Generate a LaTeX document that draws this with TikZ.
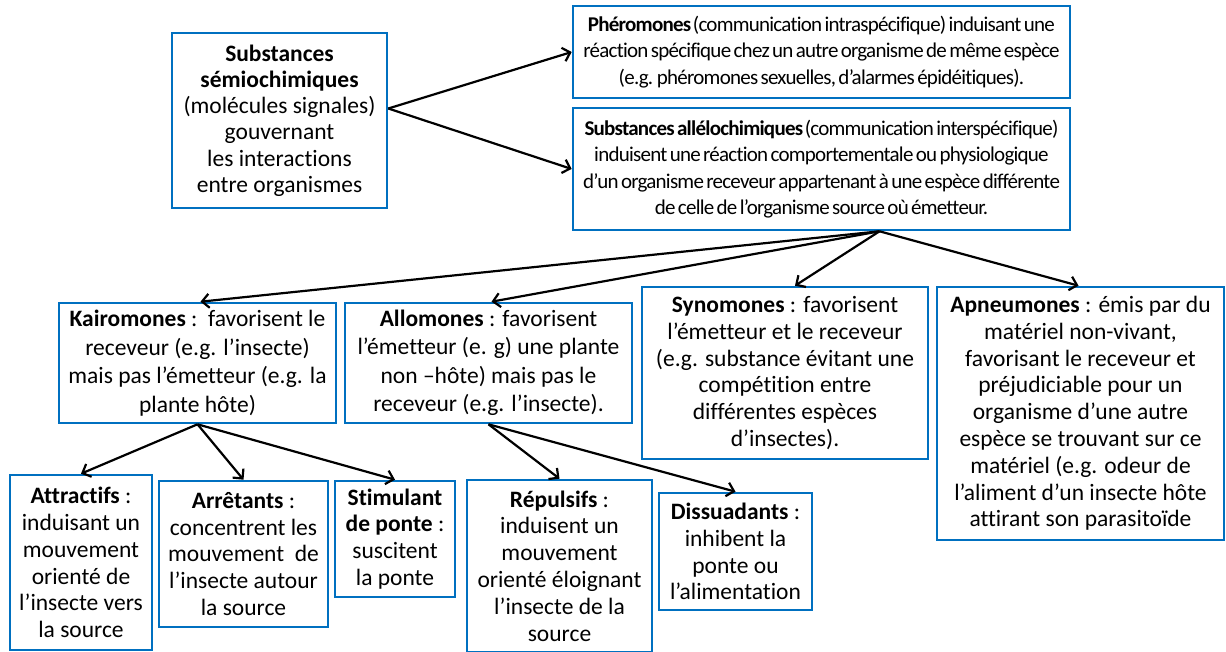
\documentclass[tikz,border=0pt]{standalone}
\usepackage{fontspec}
\setmainfont{Carlito}[Ligatures=NoCommon]
\newfontfamily\condfont{Carlito}[LetterSpace=-3.6,WordSpace=0.6,Ligatures=NoCommon]
\usetikzlibrary{arrows.meta}
\definecolor{boxblue}{RGB}{0,112,192}
\begin{document}
\begin{tikzpicture}[x=1pt,y=-1pt,
  bx/.style={draw=boxblue,line width=2.6pt,rectangle,align=center,inner sep=0pt,
    font=\fontsize{23.5}{26.8}\selectfont},
  small/.style={font=\condfont\fontsize{21}{26.3}\selectfont},
  wide/.style={font=\fontsize{23.5}{28.5}\selectfont},
  arr/.style={line width=2.2pt,-{Straight Barb[length=7pt,width=14pt,line width=2.2pt]}}]
\useasboundingbox[fill=white] (0,0) rectangle (1226,652);
\node[bx,font=\fontsize{23.5}{26.2}\selectfont,minimum width=215pt,minimum height=175pt] (semio) at (279.5,120.5)
 {\textbf{Substances}\\\textbf{sémiochimiques}\\(molécules signales)\\gouvernant\\les interactions\\entre organismes};
\node[bx,small,minimum width=497pt,minimum height=92pt] (pher) at (821.5,52)
 {\textbf{Phéromones} (communication intraspécifique) induisant une\\réaction spécifique chez un autre organisme de même espèce\\(e.g. phéromones sexuelles, d’alarmes épidéitiques).};
\node[bx,small,minimum width=497pt,minimum height=122pt] (allelo) at (821.5,169)
 {\textbf{Substances allélochimiques} (communication interspécifique)\\induisent une réaction comportementale ou physiologique\\d’un organisme receveur appartenant à une espèce différente\\de celle de l’organisme source où émetteur.};
\node[bx,wide,minimum width=277pt,minimum height=120pt] (kairo) at (197.5,363)
 {\textbf{Kairomones} :\ \ favorisent le\\receveur (e.g. l’insecte)\\mais pas l’émetteur (e.g. la\\plante hôte)};
\node[bx,wide,minimum width=287pt,minimum height=120pt] (allo) at (488.5,363)
 {\textbf{Allomones} : favorisent\\l’émetteur (e. g) une plante\\non –hôte) mais pas le\\receveur (e.g. l’insecte).};
\node[bx,minimum width=286pt,minimum height=172pt] (syno) at (785,373)
 {\textbf{Synomones} : favorisent\\l’émetteur et le receveur\\(e.g. substance évitant une\\compétition entre\\différentes espèces\\d’insectes).};
\node[bx,minimum width=287pt,minimum height=253pt] (apneu) at (1080.5,413.5)
 {\textbf{Apneumones} : émis par du\\matériel non-vivant,\\favorisant le receveur et\\préjudiciable pour un\\organisme d’une autre\\espèce se trouvant sur ce\\matériel (e.g. odeur de\\l’aliment d’un insecte hôte\\attirant son parasitoïde};
\node[bx,minimum width=142pt,minimum height=175pt] (attr) at (81,562.5)
 {\textbf{Attractifs} :\\induisant un\\mouvement\\orienté de\\l’insecte vers\\la source};
\node[bx,minimum width=169pt,minimum height=146pt] (arret) at (243.5,554)
 {\textbf{Arrêtants} :\\concentrent les\\mouvement\ \ de\\l’insecte autour\\la source};
\node[bx,minimum width=120pt,minimum height=116pt] (stim) at (395,539)
 {\textbf{Stimulant}\\\textbf{de ponte} :\\suscitent\\la ponte};
\node[bx,minimum width=185pt,minimum height=172pt] (repul) at (559.5,566)
 {\textbf{Répulsifs} :\\induisent un\\mouvement\\orienté éloignant\\l’insecte de la\\source};
\node[bx,minimum width=153pt,minimum height=117pt] (dissu) at (735.5,551.5)
 {\textbf{Dissuadants} :\\inhibent la\\ponte ou\\l’alimentation};
\coordinate (s0) at ([yshift=12pt]semio.east);
\coordinate (h1) at ([xshift=58pt]allelo.south);
\draw[arr] (s0) -- (pher.west);
\draw[arr] (s0) -- (allelo.west);
\draw[arr] (h1) -- ([xshift=3pt]kairo.north);
\draw[arr] (h1) -- ([xshift=3pt]allo.north);
\draw[arr] (h1) -- ([xshift=10pt]syno.north);
\draw[arr] (h1) -- ([xshift=-2pt]apneu.north);
\draw[arr] (kairo.south) -- (attr.north);
\draw[arr] (kairo.south) -- (arret.north);
\draw[arr] (kairo.south) -- (stim.north);
\draw[arr] (allo.south) -- (repul.north);
\draw[arr] (allo.south) -- (dissu.north);
\end{tikzpicture}
\end{document}
